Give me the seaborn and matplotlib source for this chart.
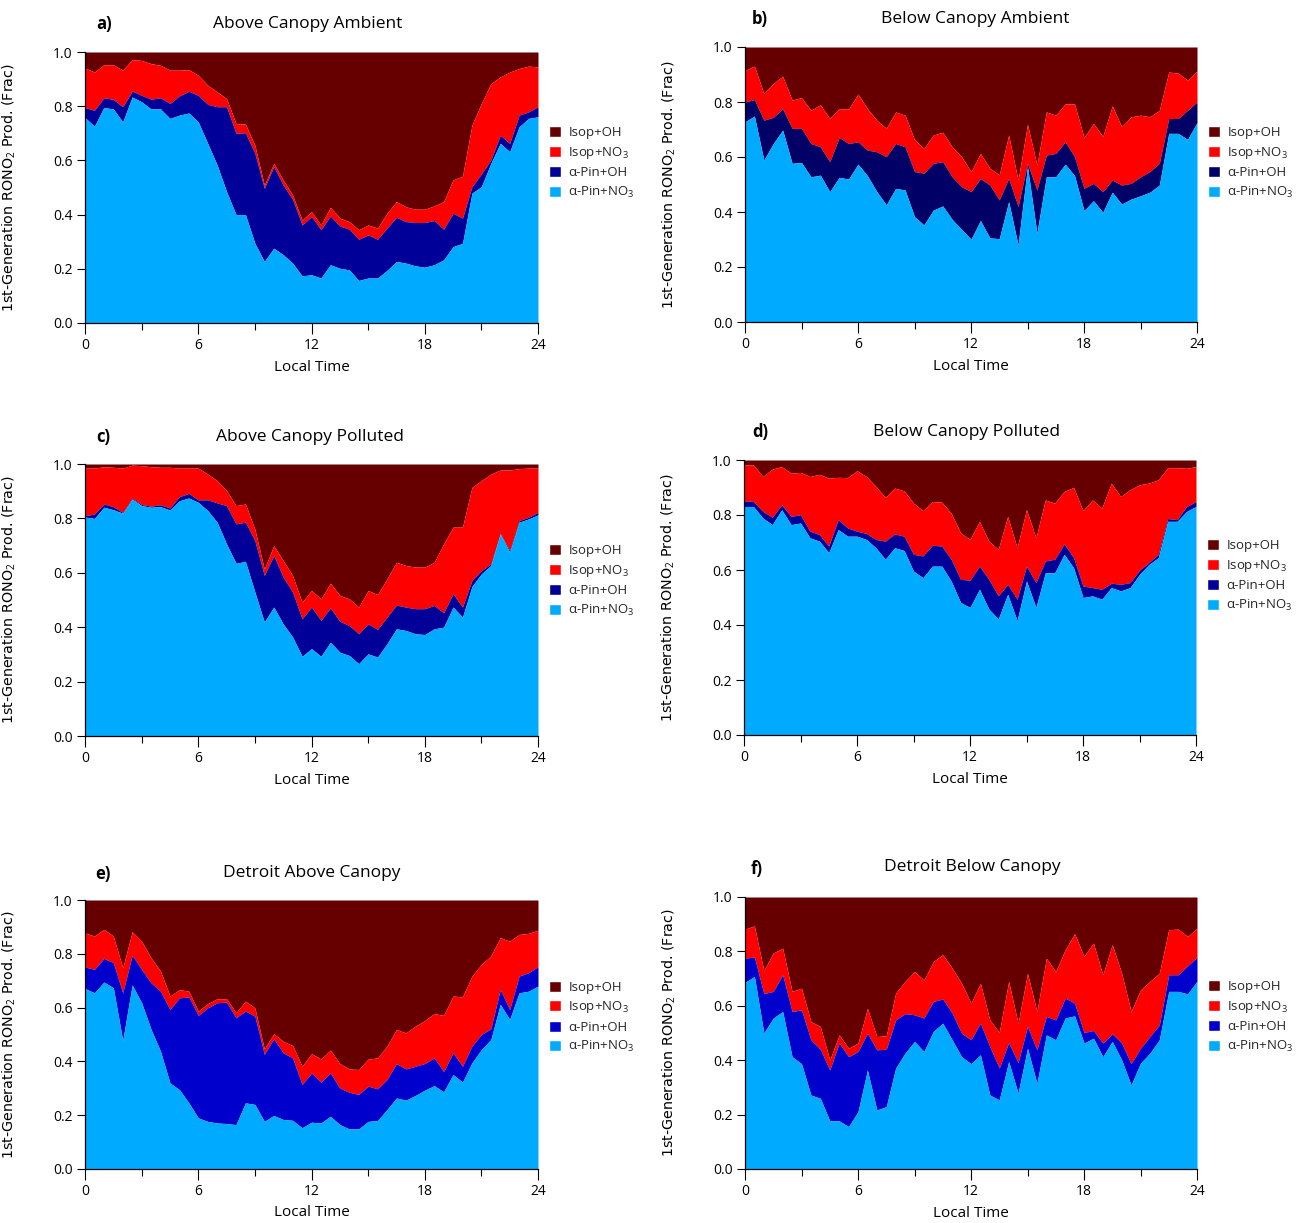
import numpy as np
import matplotlib
matplotlib.use("Agg")
import matplotlib.pyplot as plt
from matplotlib.patches import Patch
from matplotlib.ticker import MultipleLocator
import seaborn as sns

# Local time grid (half-hour steps)
hours = np.arange(0, 24.01, 0.5)

# Cumulative fractions of 1st-generation RONO2 production.
# *_apin_no3  : a-Pin+NO3 contribution (bottom band)
# *_apin_oh   : top of a-Pin+OH band
# *_isop_no3  : top of Isop+NO3 band (Isop+OH fills the rest up to 1)

# a) Above Canopy Ambient
a_apin_no3 = [0.758, 0.726, 0.795, 0.790, 0.742, 0.834, 0.816, 0.790, 0.790, 0.755,
              0.767, 0.775, 0.742, 0.663, 0.583, 0.485, 0.400, 0.400, 0.294, 0.227,
              0.276, 0.252, 0.221, 0.174, 0.178, 0.166, 0.215, 0.202, 0.196, 0.157,
              0.166, 0.166, 0.194, 0.227, 0.221, 0.211, 0.206, 0.215, 0.233, 0.282,
              0.294, 0.479, 0.503, 0.589, 0.663, 0.632, 0.724, 0.755, 0.761]
a_apin_oh = [0.795, 0.785, 0.831, 0.825, 0.798, 0.856, 0.840, 0.826, 0.831, 0.810,
             0.838, 0.855, 0.840, 0.807, 0.798, 0.798, 0.700, 0.702, 0.626, 0.497,
             0.577, 0.509, 0.456, 0.362, 0.393, 0.344, 0.395, 0.358, 0.346, 0.309,
             0.325, 0.309, 0.350, 0.390, 0.374, 0.371, 0.371, 0.378, 0.346, 0.405,
             0.387, 0.503, 0.550, 0.601, 0.693, 0.663, 0.767, 0.779, 0.798]
a_isop_no3 = [0.941, 0.926, 0.953, 0.953, 0.933, 0.972, 0.969, 0.957, 0.951, 0.933,
              0.933, 0.935, 0.914, 0.877, 0.853, 0.828, 0.736, 0.734, 0.656, 0.509,
              0.589, 0.528, 0.472, 0.380, 0.411, 0.362, 0.427, 0.387, 0.374, 0.344,
              0.362, 0.350, 0.405, 0.448, 0.429, 0.420, 0.420, 0.432, 0.448, 0.528,
              0.542, 0.730, 0.810, 0.883, 0.908, 0.926, 0.939, 0.948, 0.945]

# b) Below Canopy Ambient
b_apin_no3 = [0.728, 0.749, 0.589, 0.649, 0.698, 0.577, 0.580, 0.528, 0.534, 0.474,
              0.526, 0.520, 0.574, 0.532, 0.474, 0.426, 0.486, 0.480, 0.383, 0.353,
              0.407, 0.422, 0.373, 0.337, 0.301, 0.369, 0.306, 0.303, 0.438, 0.280,
              0.565, 0.323, 0.528, 0.528, 0.574, 0.532, 0.405, 0.441, 0.399, 0.472,
              0.429, 0.447, 0.459, 0.472, 0.498, 0.686, 0.686, 0.664, 0.725]
b_apin_oh = [0.800, 0.809, 0.734, 0.744, 0.776, 0.704, 0.704, 0.649, 0.637, 0.583,
             0.671, 0.649, 0.655, 0.625, 0.619, 0.601, 0.649, 0.637, 0.547, 0.541,
             0.577, 0.583, 0.528, 0.492, 0.474, 0.522, 0.498, 0.444, 0.522, 0.420,
             0.577, 0.480, 0.607, 0.613, 0.655, 0.601, 0.486, 0.504, 0.474, 0.516,
             0.498, 0.504, 0.528, 0.547, 0.577, 0.740, 0.740, 0.770, 0.800]
b_isop_no3 = [0.915, 0.931, 0.831, 0.867, 0.894, 0.807, 0.816, 0.770, 0.790, 0.740,
              0.776, 0.774, 0.829, 0.776, 0.734, 0.704, 0.764, 0.752, 0.663, 0.631,
              0.680, 0.690, 0.637, 0.601, 0.547, 0.613, 0.559, 0.535, 0.680, 0.516,
              0.719, 0.571, 0.764, 0.752, 0.793, 0.793, 0.671, 0.722, 0.675, 0.786,
              0.710, 0.746, 0.752, 0.746, 0.770, 0.909, 0.905, 0.879, 0.913]

# c) Above Canopy Polluted
c_apin_no3 = [0.805, 0.800, 0.841, 0.832, 0.819, 0.871, 0.847, 0.841, 0.843, 0.831,
              0.865, 0.875, 0.859, 0.829, 0.786, 0.706, 0.635, 0.642, 0.529, 0.419,
              0.474, 0.412, 0.364, 0.293, 0.321, 0.293, 0.345, 0.308, 0.296, 0.266,
              0.302, 0.290, 0.339, 0.394, 0.388, 0.376, 0.373, 0.394, 0.400, 0.474,
              0.437, 0.550, 0.596, 0.627, 0.743, 0.676, 0.786, 0.798, 0.813]
c_apin_oh = [0.810, 0.816, 0.853, 0.843, 0.822, 0.874, 0.851, 0.845, 0.850, 0.838,
             0.880, 0.892, 0.868, 0.868, 0.857, 0.847, 0.780, 0.786, 0.718, 0.590,
             0.663, 0.584, 0.529, 0.431, 0.474, 0.425, 0.471, 0.422, 0.406, 0.376,
             0.412, 0.392, 0.437, 0.481, 0.474, 0.468, 0.468, 0.480, 0.453, 0.523,
             0.474, 0.572, 0.608, 0.633, 0.745, 0.682, 0.792, 0.804, 0.822]
c_isop_no3 = [0.985, 0.985, 0.990, 0.988, 0.985, 0.996, 0.994, 0.990, 0.988, 0.988,
              0.985, 0.985, 0.985, 0.963, 0.939, 0.902, 0.847, 0.853, 0.760, 0.614,
              0.700, 0.645, 0.590, 0.492, 0.535, 0.504, 0.562, 0.517, 0.504, 0.474,
              0.535, 0.520, 0.578, 0.639, 0.627, 0.621, 0.621, 0.639, 0.706, 0.768,
              0.768, 0.914, 0.939, 0.963, 0.978, 0.978, 0.983, 0.985, 0.985]

# d) Below Canopy Polluted
d_apin_no3 = [0.831, 0.831, 0.789, 0.765, 0.819, 0.765, 0.771, 0.717, 0.705, 0.663,
              0.747, 0.723, 0.723, 0.711, 0.681, 0.639, 0.681, 0.671, 0.596, 0.572,
              0.614, 0.614, 0.560, 0.482, 0.464, 0.530, 0.458, 0.422, 0.512, 0.416,
              0.560, 0.464, 0.590, 0.590, 0.657, 0.608, 0.500, 0.506, 0.494, 0.536,
              0.524, 0.536, 0.584, 0.620, 0.645, 0.777, 0.777, 0.813, 0.831]
d_apin_oh = [0.851, 0.849, 0.813, 0.792, 0.837, 0.795, 0.801, 0.741, 0.729, 0.687,
             0.783, 0.753, 0.741, 0.733, 0.711, 0.705, 0.731, 0.723, 0.657, 0.651,
             0.690, 0.687, 0.639, 0.566, 0.563, 0.614, 0.566, 0.506, 0.548, 0.494,
             0.614, 0.554, 0.633, 0.639, 0.695, 0.645, 0.542, 0.536, 0.530, 0.552,
             0.548, 0.554, 0.599, 0.627, 0.657, 0.787, 0.783, 0.831, 0.849]
d_isop_no3 = [0.982, 0.982, 0.940, 0.967, 0.976, 0.952, 0.955, 0.940, 0.948, 0.934,
              0.937, 0.936, 0.961, 0.940, 0.904, 0.864, 0.898, 0.888, 0.843, 0.816,
              0.849, 0.847, 0.807, 0.735, 0.711, 0.777, 0.705, 0.675, 0.795, 0.681,
              0.820, 0.717, 0.855, 0.843, 0.886, 0.900, 0.816, 0.855, 0.825, 0.916,
              0.867, 0.892, 0.910, 0.916, 0.928, 0.972, 0.972, 0.970, 0.976]

# e) Detroit Above Canopy
e_apin_no3 = [0.671, 0.655, 0.695, 0.674, 0.478, 0.684, 0.618, 0.519, 0.438, 0.320,
              0.295, 0.246, 0.190, 0.177, 0.171, 0.169, 0.165, 0.246, 0.240, 0.177,
              0.199, 0.184, 0.181, 0.153, 0.174, 0.171, 0.196, 0.165, 0.149, 0.149,
              0.177, 0.180, 0.221, 0.264, 0.256, 0.273, 0.293, 0.310, 0.287, 0.351,
              0.323, 0.395, 0.444, 0.481, 0.612, 0.556, 0.655, 0.661, 0.680]
e_apin_oh = [0.751, 0.742, 0.783, 0.767, 0.655, 0.794, 0.742, 0.692, 0.661, 0.593,
             0.636, 0.640, 0.571, 0.599, 0.618, 0.620, 0.562, 0.587, 0.568, 0.426,
             0.484, 0.432, 0.413, 0.314, 0.357, 0.323, 0.357, 0.301, 0.285, 0.277,
             0.308, 0.298, 0.333, 0.392, 0.372, 0.382, 0.392, 0.413, 0.362, 0.432,
             0.382, 0.457, 0.500, 0.521, 0.667, 0.593, 0.717, 0.730, 0.752]
e_isop_no3 = [0.878, 0.866, 0.891, 0.866, 0.748, 0.882, 0.847, 0.785, 0.736, 0.643,
              0.667, 0.661, 0.587, 0.615, 0.633, 0.633, 0.581, 0.624, 0.599, 0.447,
              0.503, 0.475, 0.459, 0.382, 0.429, 0.409, 0.442, 0.392, 0.372, 0.370,
              0.409, 0.413, 0.457, 0.519, 0.506, 0.531, 0.552, 0.578, 0.571, 0.643,
              0.640, 0.717, 0.761, 0.792, 0.860, 0.847, 0.872, 0.876, 0.888]

# f) Detroit Below Canopy
f_apin_no3 = [0.686, 0.708, 0.500, 0.555, 0.579, 0.413, 0.387, 0.272, 0.260, 0.177,
              0.177, 0.156, 0.211, 0.364, 0.217, 0.229, 0.371, 0.426, 0.469, 0.432,
              0.506, 0.536, 0.475, 0.413, 0.387, 0.420, 0.272, 0.254, 0.395, 0.279,
              0.444, 0.315, 0.493, 0.475, 0.555, 0.563, 0.463, 0.481, 0.413, 0.469,
              0.401, 0.309, 0.389, 0.426, 0.475, 0.653, 0.653, 0.644, 0.690]
f_apin_oh = [0.775, 0.779, 0.645, 0.653, 0.714, 0.579, 0.585, 0.475, 0.440, 0.364,
             0.463, 0.413, 0.432, 0.499, 0.438, 0.440, 0.548, 0.571, 0.567, 0.555,
             0.616, 0.625, 0.573, 0.499, 0.475, 0.536, 0.450, 0.371, 0.465, 0.391,
             0.524, 0.438, 0.561, 0.548, 0.628, 0.610, 0.502, 0.509, 0.463, 0.497,
             0.463, 0.387, 0.444, 0.487, 0.530, 0.714, 0.714, 0.747, 0.778]
f_isop_no3 = [0.882, 0.894, 0.730, 0.794, 0.812, 0.653, 0.665, 0.542, 0.524, 0.401,
              0.493, 0.444, 0.463, 0.591, 0.487, 0.490, 0.647, 0.690, 0.726, 0.695,
              0.763, 0.788, 0.739, 0.683, 0.610, 0.683, 0.548, 0.502, 0.690, 0.536,
              0.720, 0.579, 0.775, 0.726, 0.806, 0.865, 0.782, 0.831, 0.714, 0.825,
              0.720, 0.579, 0.658, 0.690, 0.720, 0.880, 0.882, 0.855, 0.885]

panel_letters = ["a)", "b)", "c)", "d)", "e)", "f)"]
panel_titles = ["Above Canopy Ambient", "Below Canopy Ambient",
                "Above Canopy Polluted", "Below Canopy Polluted",
                "Detroit Above Canopy", "Detroit Below Canopy"]
species = ["Isop+OH", "Isop+NO$_3$", "\u03b1-Pin+OH", "\u03b1-Pin+NO$_3$"]

panels = [
    (a_apin_no3, a_apin_oh, a_isop_no3),
    (b_apin_no3, b_apin_oh, b_isop_no3),
    (c_apin_no3, c_apin_oh, c_isop_no3),
    (d_apin_no3, d_apin_oh, d_isop_no3),
    (e_apin_no3, e_apin_oh, e_isop_no3),
    (f_apin_no3, f_apin_oh, f_isop_no3),
]

COL_ISOP_OH = "#660000"
COL_ISOP_NO3 = "#ff0000"
COL_APIN_NO3 = "#00aaff"
apin_oh_colors = ["#000099", "#000066", "#000099", "#000099", "#0000cc", "#0000cc"]

sns.set_theme(style="ticks")
plt.rcParams["font.family"] = ["Open Sans", "DejaVu Sans"]
plt.rcParams["mathtext.fontset"] = "custom"
plt.rcParams["mathtext.rm"] = "Open Sans"
plt.rcParams["mathtext.it"] = "Open Sans:italic"

W, H = 1301, 1223
fig = plt.figure(figsize=(W / 100, H / 100), dpi=100)

# axes boxes in pixels: left, top, right, bottom
boxes = [(85, 52, 538, 323), (745, 47, 1197, 322),
         (85, 464, 538, 736), (744, 460, 1196, 735),
         (85, 900, 538, 1169), (745, 897, 1197, 1169)]
letter_pos = [(104, 24), (760, 19), (103, 437), (760, 432), (103, 874), (757, 869)]
title_pos = [(308, 24), (975, 19), (310, 437), (967, 432), (312, 873), (972, 867)]
legend_y = [0.59, 0.578, 0.57, 0.578, 0.563, 0.559]

for i, (apin_no3, apin_oh, isop_no3) in enumerate(panels):
    l, t, r, b = boxes[i]
    ax = fig.add_axes([l / W, 1 - b / H, (r - l) / W, (b - t) / H])
    x = hours
    base = np.zeros_like(x)
    ax.fill_between(x, isop_no3, 1.0, color=COL_ISOP_OH, lw=0)
    ax.fill_between(x, apin_oh, isop_no3, color=COL_ISOP_NO3, lw=0)
    ax.fill_between(x, apin_no3, apin_oh, color=apin_oh_colors[i], lw=0)
    ax.fill_between(x, base, apin_no3, color=COL_APIN_NO3, lw=0)

    ax.set_xlim(0, 24)
    ax.set_ylim(0, 1.0)
    ax.xaxis.set_major_locator(MultipleLocator(6))
    ax.xaxis.set_minor_locator(MultipleLocator(3))
    ax.yaxis.set_major_locator(MultipleLocator(0.2))
    ax.set_yticklabels([f"{v:.1f}" for v in ax.get_yticks()])
    ax.tick_params(axis="both", which="major", direction="out", length=6,
                   width=0.8, color="black", labelsize=10, labelcolor="black", pad=3)
    ax.tick_params(axis="x", which="major", length=8)
    ax.tick_params(axis="x", which="minor", direction="out", length=5,
                   width=0.8, color="black")
    sns.despine(ax=ax)
    for s in ("left", "bottom"):
        ax.spines[s].set_color("black")
        ax.spines[s].set_linewidth(0.9)

    ax.set_xlabel("Local Time", fontsize=11, color="black")
    ax.xaxis.set_label_coords(0.5, -0.135)
    ax.set_ylabel("1st-Generation RONO$_2$ Prod. (Frac)", fontsize=10.3,
                  color="black", family="DejaVu Sans")
    ax.yaxis.set_label_coords(-0.148, 0.5)

    handles = [Patch(facecolor=COL_ISOP_OH), Patch(facecolor=COL_ISOP_NO3),
               Patch(facecolor=apin_oh_colors[i]), Patch(facecolor=COL_APIN_NO3)]
    ax.legend(handles, species, loc="center left", bbox_to_anchor=(1.025, legend_y[i]),
              frameon=False, fontsize=9.5, handlelength=0.9, handleheight=0.9,
              handletextpad=0.55, labelspacing=0.42, borderpad=0, borderaxespad=0)

    lx, ly = letter_pos[i]
    fig.text(lx / W, 1 - ly / H, panel_letters[i], ha="center", va="center",
             fontsize=12, fontweight="bold", color="black")
    tx, ty = title_pos[i]
    fig.text(tx / W, 1 - ty / H, panel_titles[i], ha="center", va="center",
             fontsize=12.5, color="black")

fig.savefig("out.png", dpi=100, facecolor="white")
